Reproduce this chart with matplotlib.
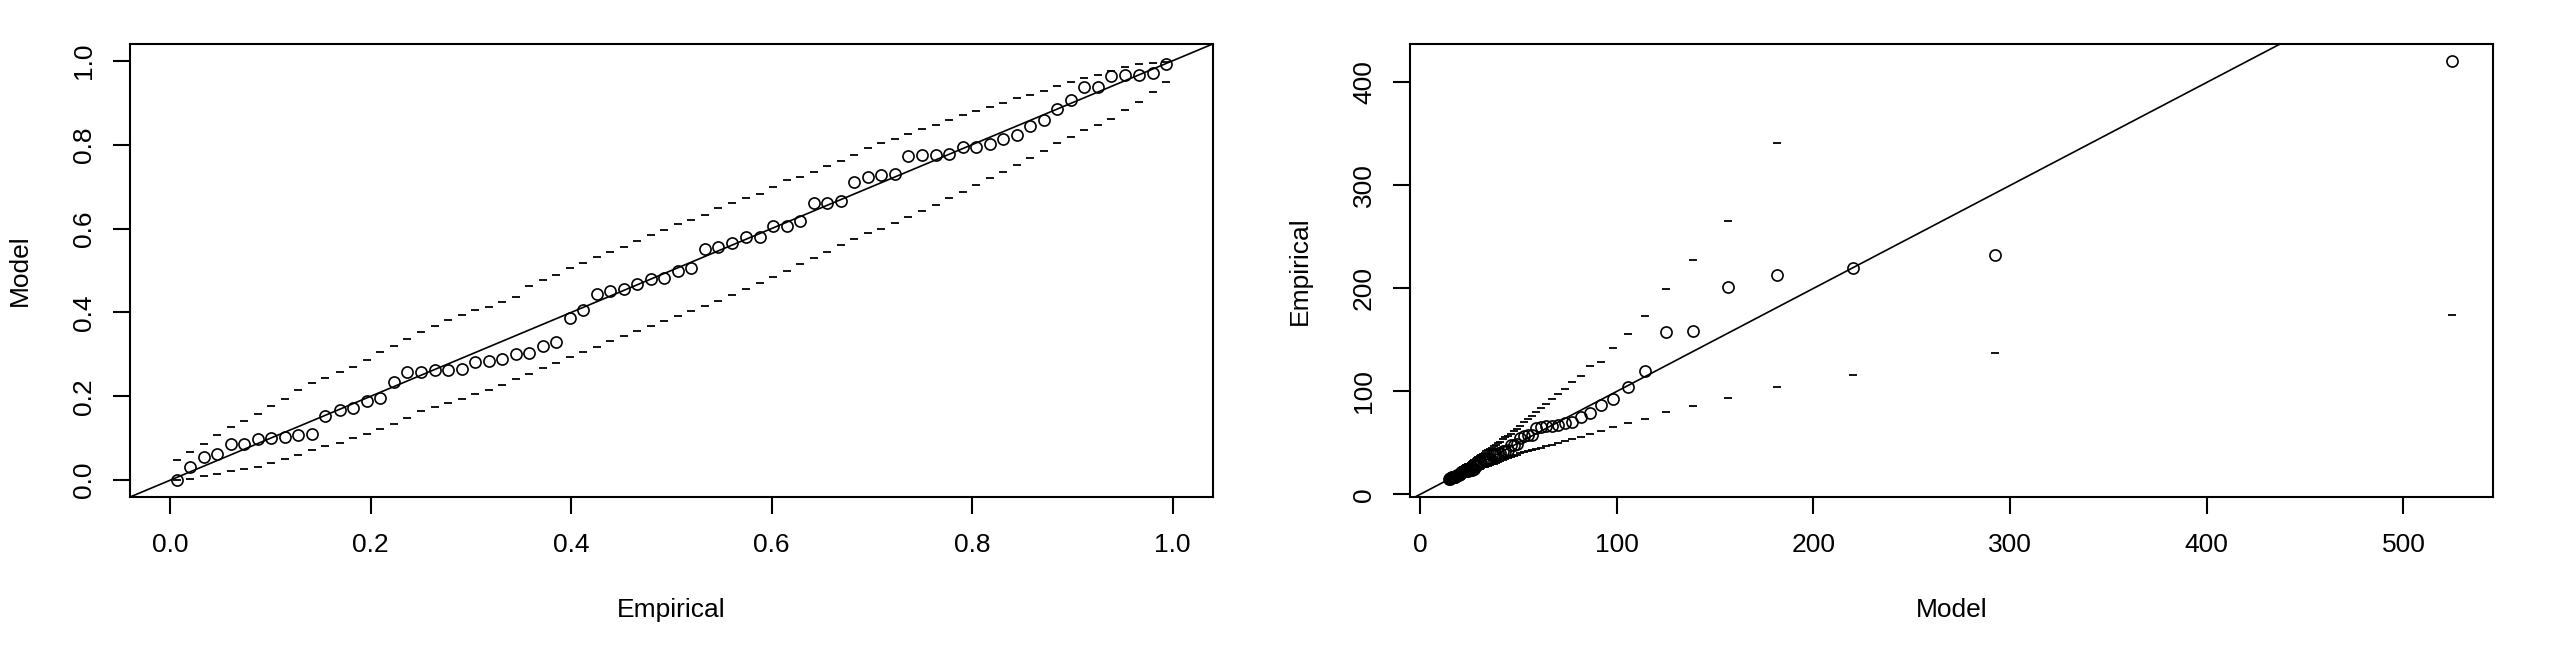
import numpy as np
import matplotlib.pyplot as plt

plt.rcParams['font.family'] = ['Liberation Sans', 'DejaVu Sans']

# ---- probability plot (left) ----
pp_empirical = [0.007, 0.020, 0.034, 0.047, 0.061, 0.074, 0.088, 0.101, 0.115, 0.128,
                0.142, 0.155, 0.169, 0.182, 0.196, 0.209, 0.223, 0.236, 0.250, 0.264,
                0.277, 0.291, 0.304, 0.318, 0.331, 0.345, 0.358, 0.372, 0.385, 0.399,
                0.412, 0.426, 0.439, 0.453, 0.466, 0.480, 0.493, 0.507, 0.520, 0.534,
                0.547, 0.561, 0.574, 0.588, 0.601, 0.615, 0.628, 0.642, 0.655, 0.669,
                0.682, 0.696, 0.709, 0.723, 0.736, 0.750, 0.764, 0.777, 0.791, 0.804,
                0.818, 0.831, 0.845, 0.858, 0.872, 0.885, 0.899, 0.912, 0.926, 0.939,
                0.953, 0.966, 0.980, 0.993]
pp_model = [0.000, 0.031, 0.056, 0.062, 0.087, 0.087, 0.098, 0.100, 0.103, 0.107,
            0.111, 0.152, 0.168, 0.171, 0.190, 0.196, 0.233, 0.257, 0.259, 0.262,
            0.262, 0.264, 0.281, 0.284, 0.289, 0.302, 0.303, 0.321, 0.329, 0.387,
            0.406, 0.445, 0.450, 0.456, 0.468, 0.479, 0.483, 0.498, 0.507, 0.551,
            0.556, 0.565, 0.581, 0.581, 0.605, 0.606, 0.617, 0.660, 0.660, 0.666,
            0.710, 0.722, 0.728, 0.730, 0.773, 0.776, 0.776, 0.778, 0.795, 0.795,
            0.802, 0.814, 0.823, 0.845, 0.859, 0.884, 0.906, 0.938, 0.938, 0.964,
            0.966, 0.966, 0.970, 0.992]
pp_upper = [0.048, 0.068, 0.087, 0.107, 0.126, 0.141, 0.159, 0.176, 0.194, 0.214,
            0.232, 0.244, 0.258, 0.270, 0.287, 0.305, 0.320, 0.336, 0.354, 0.368,
            0.383, 0.395, 0.405, 0.414, 0.426, 0.438, 0.462, 0.478, 0.490, 0.506,
            0.518, 0.533, 0.544, 0.557, 0.571, 0.585, 0.597, 0.611, 0.621, 0.633,
            0.649, 0.660, 0.672, 0.683, 0.700, 0.716, 0.724, 0.736, 0.748, 0.760,
            0.775, 0.791, 0.804, 0.814, 0.826, 0.837, 0.848, 0.860, 0.870, 0.880,
            0.890, 0.900, 0.911, 0.918, 0.929, 0.939, 0.949, 0.960, 0.967, 0.975,
            0.984, 0.992, 0.995, 0.998]
pp_lower = [0.000, 0.004, 0.010, 0.016, 0.021, 0.026, 0.031, 0.040, 0.050, 0.061,
            0.073, 0.081, 0.089, 0.100, 0.111, 0.122, 0.134, 0.148, 0.164, 0.174,
            0.184, 0.194, 0.205, 0.216, 0.228, 0.241, 0.254, 0.267, 0.280, 0.293,
            0.305, 0.318, 0.331, 0.344, 0.356, 0.368, 0.380, 0.392, 0.404, 0.416,
            0.428, 0.441, 0.455, 0.470, 0.485, 0.500, 0.515, 0.530, 0.545, 0.560,
            0.576, 0.590, 0.600, 0.613, 0.627, 0.642, 0.657, 0.672, 0.688, 0.704,
            0.720, 0.736, 0.752, 0.768, 0.786, 0.803, 0.818, 0.834, 0.848, 0.862,
            0.882, 0.901, 0.925, 0.949]

# ---- quantile plot (right) ----
qq_model = [14.79, 15.12, 15.45, 15.79, 16.14, 16.49, 16.85, 17.22, 17.60, 17.99,
            18.39, 18.79, 19.21, 19.63, 20.07, 20.52, 20.98, 21.45, 21.93, 22.43,
            22.94, 23.46, 24.00, 24.56, 25.13, 25.72, 26.33, 26.96, 27.61, 28.28,
            28.97, 29.69, 30.43, 31.20, 32.00, 32.83, 33.69, 34.59, 35.52, 36.50,
            37.52, 38.58, 39.69, 40.86, 42.09, 43.38, 44.74, 46.17, 47.69, 49.30,
            51.01, 52.83, 54.78, 56.87, 59.11, 61.53, 64.16, 67.02, 70.15, 73.59,
            77.41, 81.68, 86.49, 91.96, 98.27, 105.66, 114.47, 125.22, 138.77, 156.59,
            181.52, 220.06, 292.2, 524.5]
qq_empirical = [14.63, 15.38, 16.01, 16.17, 16.83, 16.83, 17.14, 17.19, 17.27, 17.38,
                17.49, 18.69, 19.18, 19.27, 19.88, 20.07, 21.32, 22.19, 22.26, 22.37,
                22.37, 22.45, 23.09, 23.21, 23.40, 23.92, 23.96, 24.70, 25.04, 27.70,
                28.65, 30.73, 31.04, 31.37, 32.11, 32.78, 33.04, 33.98, 34.62, 37.80,
                38.16, 38.92, 40.26, 40.26, 42.43, 42.52, 43.59, 48.23, 48.23, 48.94,
                54.78, 56.71, 57.68, 58.01, 64.8, 65.7, 66.0, 66.5, 67.4, 69.0,
                70.6, 75.4, 79.3, 86.5, 92.3, 104.6, 119.5, 158.0, 158.6, 201.7,
                213.0, 220.1, 232.4, 421.1]
qq_upper = [15.81, 16.33, 16.83, 17.38, 17.92, 18.36, 18.90, 19.43, 20.01, 20.67,
            21.29, 21.72, 22.23, 22.67, 23.33, 24.04, 24.66, 25.35, 26.15, 26.79,
            27.51, 28.10, 28.61, 29.08, 29.71, 30.37, 31.75, 32.73, 33.49, 34.54,
            35.36, 36.44, 37.27, 38.28, 39.43, 40.62, 41.69, 43.02, 43.99, 45.22,
            46.98, 48.23, 49.69, 51.08, 53.40, 55.77, 57.04, 59.03, 61.18, 63.46,
            66.59, 70.27, 73.59, 76.39, 80.02, 83.73, 87.85, 92.79, 97.52, 102.71,
            108.83, 115.44, 124.4, 128.8, 142.4, 155.7, 173.2, 199.1, 227.6, 265.4,
            340.9, 480.0, 580.0, 946.0]
qq_lower = [14.63, 14.73, 14.87, 15.01, 15.13, 15.26, 15.38, 15.60, 15.86, 16.14,
            16.46, 16.67, 16.88, 17.19, 17.49, 17.81, 18.16, 18.57, 19.05, 19.36,
            19.68, 20.01, 20.37, 20.73, 21.15, 21.61, 22.08, 22.56, 23.05, 23.56,
            24.04, 24.58, 25.13, 25.70, 26.24, 26.79, 27.36, 27.95, 28.56, 29.18,
            29.82, 30.54, 31.34, 32.23, 33.17, 34.14, 35.16, 36.22, 37.35, 38.52,
            39.84, 41.06, 41.96, 43.21, 44.2, 45.5, 46.9, 48.4, 50.1, 52.0,
            54.0, 56.1, 58.6, 61.8, 65.7, 69.6, 73.2, 79.7, 86.1, 93.9,
            104.6, 115.9, 137.6, 174.2]

pp_ticks = [0.0, 0.2, 0.4, 0.6, 0.8, 1.0]
pp_ticklabels = ['0.0', '0.2', '0.4', '0.6', '0.8', '1.0']
qq_xticks = [0, 100, 200, 300, 400, 500]
qq_yticks = [0, 100, 200, 300, 400]

fig = plt.figure(figsize=(25.6, 6.55), dpi=100)
ax1 = fig.add_axes([0.05078, 0.24122, 0.42293, 0.69160])
ax2 = fig.add_axes([0.55078, 0.24122, 0.42293, 0.69160])

pt = dict(ls='none', marker='o', mfc='none', mec='black', ms=8.0, mew=1.2)
dash = dict(ls='none', marker='_', color='black', ms=5.5, mew=1.3)

# left: probability plot
ax1.plot(pp_empirical, pp_upper, **dash)
ax1.plot(pp_empirical, pp_lower, **dash)
ax1.plot(pp_empirical, pp_model, **pt)
ax1.axline((0, 0), (1, 1), color='black', lw=1.2)
ax1.set_xlim(-0.04, 1.04)
ax1.set_ylim(-0.04, 1.04)
ax1.set_xticks(pp_ticks)
ax1.set_xticklabels(pp_ticklabels)
ax1.set_yticks(pp_ticks)
ax1.set_yticklabels(pp_ticklabels)
ax1.set_xlabel('Empirical')
ax1.set_ylabel('Model')

# right: quantile plot
ax2.plot(qq_model, qq_upper, **dash)
ax2.plot(qq_model, qq_lower, **dash)
ax2.plot(qq_model, qq_empirical, **pt)
ax2.axline((0, 0), (1, 1), color='black', lw=1.2)
ax2.set_xlim(-5.1, 545.4)
ax2.set_ylim(-2.5, 437.3)
ax2.set_xticks(qq_xticks)
ax2.set_yticks(qq_yticks)
ax2.set_xlabel('Model')
ax2.set_ylabel('Empirical')

for ax in (ax1, ax2):
    for s in ax.spines.values():
        s.set_linewidth(1.5)
    ax.tick_params(axis='both', length=12.2, width=1.5, labelsize=19)
    ax.tick_params(axis='x', pad=22.3)
    ax.tick_params(axis='y', pad=20.9, labelrotation=90)
    plt.setp(ax.get_xticklabels(), va='center')
    plt.setp(ax.get_yticklabels(), va='center', ha='center')
    ax.xaxis.label.set_fontsize(19)
    ax.yaxis.label.set_fontsize(19)
    ax.xaxis.set_label_coords(0.5, -0.2494)
    ax.yaxis.set_label_coords(-0.1016, 0.5)
    ax.xaxis.label.set_va('center')
    ax.yaxis.label.set_va('center')

fig.savefig('out.png', dpi=100, facecolor='white')
